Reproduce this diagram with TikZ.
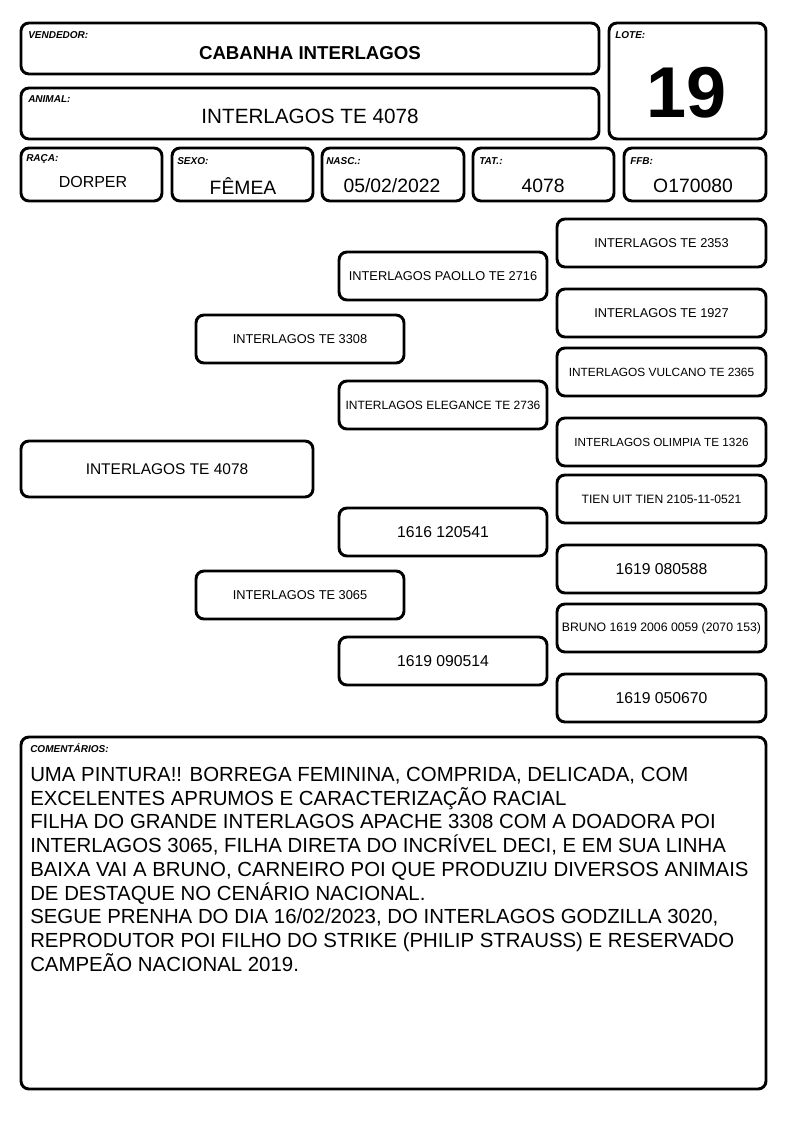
\documentclass[tikz,border=0pt]{standalone}
\usepackage{fontspec}
\setmainfont{Liberation Sans}
\newcommand\pxu{*0.75pt}
\tikzset{
  box/.style={draw, line width=2.2pt, rounded corners=6pt, inner sep=0pt},
  lbl/.style={anchor=west, inner sep=0pt, font=\fontsize{7.5}{9}\selectfont\bfseries\itshape},
  val/.style={inner sep=0pt, font=\fontsize{14.5}{17}\selectfont},
  pedname/.style={box, minimum width=208\pxu, minimum height=48\pxu, font=\fontsize{9.6}{11}\selectfont},
  pednum/.style={pedname, font=\fontsize{11.8}{14}\selectfont},
  pedsmall/.style={font=\fontsize{#1}{11}\selectfont},
}
\begin{document}
\begin{tikzpicture}[x=0.75pt, y=-0.75pt]
  \useasboundingbox (0,0) rectangle (794,1123);
  % header
  \node[box, minimum width=578\pxu, minimum height=51\pxu] (vendedor) at (310,48.5) {};
  \node[box, minimum width=157\pxu, minimum height=116\pxu] (lote) at (687.5,81) {};
  \node[box, minimum width=578\pxu, minimum height=51\pxu] (animal) at (310,113.5) {};
  \node[lbl] (vendedorlbl) at (28,35) {VENDEDOR:};
  \node[inner sep=0pt, font=\fontsize{14}{17}\selectfont\bfseries] (vendedorval) at (310,53) {CABANHA INTERLAGOS};
  \node[lbl] (animallbl) at (28,99) {ANIMAL:};
  \node[inner sep=0pt, font=\fontsize{15.5}{18}\selectfont] (animalval) at (310,116) {INTERLAGOS TE 4078};
  \node[lbl] (lotelbl) at (615,35) {LOTE:};
  \node[inner sep=0pt, font=\fontsize{54}{60}\selectfont\bfseries] (loteval) at (687,93) {19};
  % data row
  \node[box, minimum width=141\pxu, minimum height=53\pxu] (raca) at (91.5,174.5) {};
  \node[box, minimum width=141\pxu, minimum height=53\pxu] (sexo) at (242.5,174.5) {};
  \node[box, minimum width=142\pxu, minimum height=53\pxu] (nasc) at (393,174.5) {};
  \node[box, minimum width=141\pxu, minimum height=53\pxu] (tat) at (543.5,174.5) {};
  \node[box, minimum width=142\pxu, minimum height=53\pxu] (ffb) at (695,174.5) {};
  \node[lbl] (racalbl) at (26,159) {RAÇA:};
  \node[val, font=\fontsize{12}{14}\selectfont] (racaval) at (93,182) {DORPER};
  \node[lbl] (sexolbl) at (177,161) {SEXO:};
  \node[val] (sexoval) at (243,186) {FÊMEA};
  \node[lbl] (nasclbl) at (326,161) {NASC.:};
  \node[val] (nascval) at (392,186) {05/02/2022};
  \node[lbl] (tatlbl) at (479,161) {TAT.:};
  \node[val] (tatval) at (543,186) {4078};
  \node[lbl] (ffblbl) at (630,161) {FFB:};
  \node[val] (ffbval) at (693,186) {O170080};
  % pedigree
  \node[box, minimum width=292\pxu, minimum height=56\pxu, font=\fontsize{11.6}{14}\selectfont] (p) at (167,469) {INTERLAGOS TE 4078};
  \node[pedname] (s) at (300,339) {INTERLAGOS TE 3308};
  \node[pedname] (d) at (300,595) {INTERLAGOS TE 3065};
  \node[pedname] (ss) at (443,276) {INTERLAGOS PAOLLO TE 2716};
  \node[pedname, pedsmall=9] (sd) at (443,405) {INTERLAGOS ELEGANCE TE 2736};
  \node[pednum] (ds) at (443,532) {1616 120541};
  \node[pednum] (dd) at (443,661) {1619 090514};
  \node[pedname, minimum width=209\pxu] (sss) at (661.5,243) {INTERLAGOS TE 2353};
  \node[pedname, minimum width=209\pxu] (ssd) at (661.5,313) {INTERLAGOS TE 1927};
  \node[pedname, minimum width=209\pxu, pedsmall=8.9] (sds) at (661.5,372) {INTERLAGOS VULCANO TE 2365};
  \node[pedname, minimum width=209\pxu, pedsmall=8.8] (sdd) at (661.5,442) {INTERLAGOS OLIMPIA TE 1326};
  \node[pedname, minimum width=209\pxu, pedsmall=9.1] (dss) at (661.5,499) {TIEN UIT TIEN 2105-11-0521};
  \node[pednum, minimum width=209\pxu] (dsd) at (661.5,569) {1619 080588};
  \node[pedname, minimum width=209\pxu, pedsmall=9.2] (dds) at (661.5,628) {BRUNO 1619 2006 0059 (2070 153)};
  \node[pednum, minimum width=209\pxu] (ddd) at (661.5,698) {1619 050670};
  % comments
  \node[box, minimum width=745\pxu, minimum height=352\pxu] (coment) at (393.5,913) {};
  \node[lbl] (comentlbl) at (30,748) {COMENTÁRIOS:};
  \node[anchor=north west, inner sep=0pt, align=left, font=\fontsize{15.3}{17.8}\selectfont] (comenttxt) at (30,767) {UMA PINTURA!! BORREGA FEMININA, COMPRIDA, DELICADA, COM\\
EXCELENTES APRUMOS E CARACTERIZAÇÃO RACIAL\\
FILHA DO GRANDE INTERLAGOS APACHE 3308 COM A DOADORA POI\\
INTERLAGOS 3065, FILHA DIRETA DO INCRÍVEL DECI, E EM SUA LINHA\\
BAIXA VAI A BRUNO, CARNEIRO POI QUE PRODUZIU DIVERSOS ANIMAIS\\
DE DESTAQUE NO CENÁRIO NACIONAL.\\
SEGUE PRENHA DO DIA 16/02/2023, DO INTERLAGOS GODZILLA 3020,\\
REPRODUTOR POI FILHO DO STRIKE (PHILIP STRAUSS) E RESERVADO\\
CAMPEÃO NACIONAL 2019.};
\end{tikzpicture}
\end{document}
